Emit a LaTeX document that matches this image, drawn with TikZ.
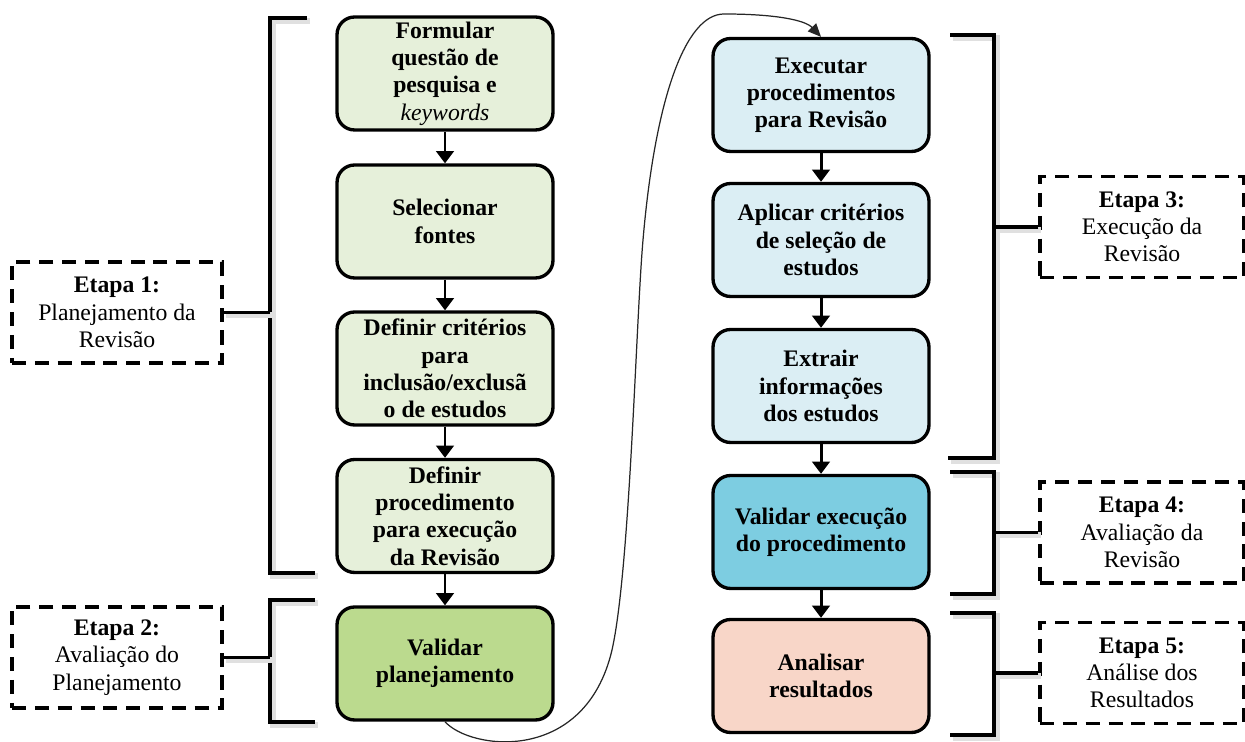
\documentclass[tikz,border=0pt]{standalone}
\usepackage{fontspec}
\setmainfont{Liberation Serif}
\usepackage{tikz}
\usetikzlibrary{arrows.meta}
\definecolor{verdeclaro}{RGB}{230,240,218}
\definecolor{verde}{RGB}{187,218,142}
\definecolor{azulclaro}{RGB}{219,238,244}
\definecolor{azul}{RGB}{125,205,225}
\definecolor{rosa}{RGB}{248,214,200}
\tikzset{
	passo/.style={draw=black, line width=1.9pt, rounded corners=10pt, minimum width=4.32cm, minimum height=2.26cm, align=center, inner sep=2pt, font=\fontsize{13.5}{15.5}\selectfont\bfseries},
	etapa/.style={draw=black, line width=2pt, dash pattern=on 8pt off 5pt, minimum width=4.2cm, minimum height=2.02cm, align=center, font=\fontsize{13.5}{15.5}\selectfont},
	seta/.style={line width=1.7pt, -{Triangle[width=10pt,length=7pt]}},
	chave/.style={line width=1.9pt, preaction={draw=black!12, line width=3.5pt, transform canvas={shift={(1.5pt,-1.5pt)}}}},
	curva/.style={line width=0.7pt, black!85, -{Triangle[width=6.5pt,length=7.5pt]}}
}

\begin{document}
\begin{tikzpicture}[x=0.02cm, y=-0.02cm]
		%%%%% START %%%%%
		\useasboundingbox (0,0) rectangle (1245,742);
		
		% planejamento
		\node[passo, fill=verdeclaro] (f1) at (445,73.5) {Formular\\questão de\\pesquisa e\\{\mdseries\itshape keywords}};
		\node[passo, fill=verdeclaro] (f2) at (445,221.5) {Selecionar\\fontes};
		\node[passo, fill=verdeclaro] (f3) at (445,368.5) {Definir critérios\\para\\inclusão/exclusã\\o de estudos};
		\node[passo, fill=verdeclaro] (f4) at (445,516) {Definir\\procedimento\\para execução\\da Revisão};
		\node[passo, fill=verde] (f5) at (445,663.5) {Validar\\planejamento};
		
		\draw[seta] (f1) -- (f2);
		\draw[seta] (f2) -- (f3);
		\draw[seta] (f3) -- (f4);
		\draw[seta] (f4) -- (f5);
		
		% execucao
		\node[passo, fill=azulclaro] (r1) at (821,95) {Executar\\procedimentos\\para Revisão};
		\node[passo, fill=azulclaro] (r2) at (821,240) {Aplicar critérios\\de seleção de\\estudos};
		\node[passo, fill=azulclaro] (r3) at (821,386) {Extrair\\informações\\dos estudos};
		\node[passo, fill=azul] (r4) at (821,532) {Validar execução\\do procedimento};
		\node[passo, fill=rosa] (r5) at (821,676) {Analisar\\resultados};
		
		\draw[seta] (r1) -- (r2);
		\draw[seta] (r2) -- (r3);
		\draw[seta] (r3) -- (r4);
		\draw[seta] (r4) -- (r5);
		
		\draw[curva] (f5.south) .. controls (470,750) and (585,765) .. (612,650)
			.. controls (630,570) and (636,320) .. (643,240)
			.. controls (655,100) and (685,14) .. (724,14)
			.. controls (775,14) and (805,20) .. (r1.north);
		
		% etapas
		\node[etapa] (e1) at (117,312.5) {\textbf{Etapa 1:}\\Planejamento da\\Revisão};
		\node[etapa] (e2) at (117,657.5) {\textbf{Etapa 2:}\\Avaliação do\\Planejamento};
		\node[etapa, minimum width=4.08cm] (e3) at (1142,227) {\textbf{Etapa 3:}\\Execução da\\Revisão};
		\node[etapa, minimum width=4.08cm] (e4) at (1142,532.5) {\textbf{Etapa 4:}\\Avaliação da\\Revisão};
		\node[etapa, minimum width=4.08cm] (e5) at (1142,673) {\textbf{Etapa 5:}\\Análise dos\\Resultados};
		
		% chaves
		\coordinate (k1) at (270,18);
		\coordinate (k2) at (270,600);
		\coordinate (k3) at (994,35);
		\coordinate (k4) at (994,472);
		\coordinate (k5) at (994,613);
		
		\draw[chave] (307,18) -- (k1) -- (270,573) -- (315,573);
		\draw[chave] (315,600) -- (k2) -- (270,722) -- (315,722);
		\draw[chave] (950,35) -- (k3) -- (994,458) -- (948,458);
		\draw[chave] (950,472) -- (k4) -- (994,594) -- (950,594);
		\draw[chave] (950,613) -- (k5) -- (994,735) -- (950,735);
		
		\draw[chave] (e1.east) -- (e1.east -| k1);
		\draw[chave] (e2.east) -- (e2.east -| k2);
		\draw[chave] (e3.west) -- (e3.west -| k3);
		\draw[chave] (e4.west) -- (e4.west -| k4);
		\draw[chave] (e5.west) -- (e5.west -| k5);
		
		%%%%% END %%%%%
	\end{tikzpicture}
\end{document}
